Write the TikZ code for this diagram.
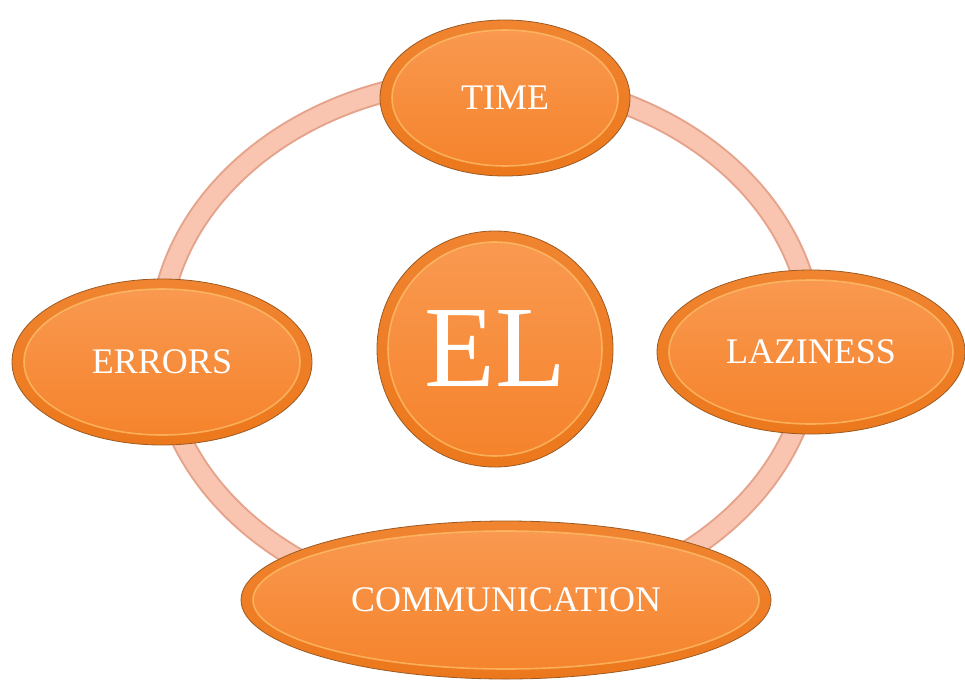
\documentclass[tikz,border=0pt]{standalone}
\usepackage{fontspec}
\setmainfont{Liberation Serif}
\usetikzlibrary{shapes}

\definecolor{ringfill}{HTML}{FAC5B0}
\definecolor{ringedge}{HTML}{E5A38B}
\definecolor{orangetop}{HTML}{F08430}
\definecolor{orangebot}{HTML}{EC781C}
\definecolor{innertop}{HTML}{F99A52}
\definecolor{innerbot}{HTML}{F5822A}
\definecolor{rimlight}{HTML}{FFC36E}
\definecolor{orangeedge}{HTML}{9C5A22}

\begin{document}
\begin{tikzpicture}[x=1pt,y=-1pt,
    topic node/.style={ellipse,draw=orangeedge,line width=0.8pt,top color=orangetop,bottom color=orangebot,
        text=white,inner sep=0pt,font=\fontsize{36}{40}\selectfont},
    core node/.style={topic node,circle,font=\fontsize{116}{120}\selectfont},
    inner rim/.style={draw=rimlight,draw opacity=0.7,line width=1.6pt,top color=innertop,bottom color=innerbot}]

    \useasboundingbox (0,0) rectangle (965,682);

    % the ring behind everything
    \coordinate (hub) at (486,343);
    \draw[ringedge,line width=22pt] (hub) ellipse [x radius=327,y radius=264];
    \draw[ringfill,line width=18pt] (hub) ellipse [x radius=327,y radius=264];

    \node[core node,minimum size=236pt,
        path picture={\draw[inner rim] (path picture bounding box.center) circle [radius=107pt];}]
        (el) at (495,349) {EL};

    \foreach \nm/\x/\y/\w/\h/\txt in {
        time/505/98/250/156/TIME,
        errors/162/362/300/166/ERRORS,
        laziness/811/352/308/164/LAZINESS,
        comm/506/600/530/158/COMMUNICATION}{
        \node[topic node,minimum width=\w pt,minimum height=\h pt,
            path picture={\draw[inner rim] (path picture bounding box.center)
                ellipse [x radius={\w*0.5pt-12pt},y radius={\h*0.5pt-10pt}];}]
            (\nm) at (\x,\y) {\txt};
    }

\end{tikzpicture}
\end{document}
